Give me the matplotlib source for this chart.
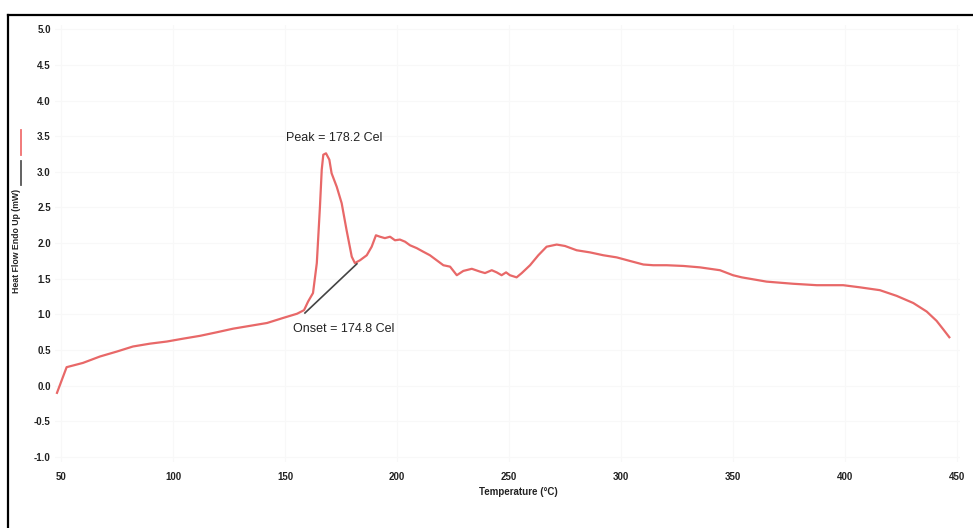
import matplotlib.pyplot as plt
from matplotlib.lines import Line2D

# DSC trace (temperature degC, heat flow mW)
temp = [48.2, 52.5, 59.8, 67.4, 75.0, 82.1, 89.7, 97.3, 104.5, 112.1,
        119.6, 126.8, 134.4, 142.0, 149.1, 155.4, 158.5, 160.3, 162.5, 164.2,
        165.6, 166.4, 167.1, 168.3, 169.8, 170.8, 173.1, 175.3, 177.5, 179.8,
        181.2, 183.5, 186.5, 188.7, 190.6, 192.4, 194.6, 196.9, 199.1, 201.3,
        203.6, 205.8, 208.8, 211.7, 214.7, 217.7, 220.7, 223.7, 226.7, 229.6,
        233.4, 237.1, 239.3, 242.3, 244.5, 246.7, 248.7, 250.4, 253.4, 255.7,
        259.4, 263.1, 266.8, 271.3, 275.0, 280.2, 286.2, 292.1, 298.1, 304.0,
        310.0, 314.4, 320.4, 327.8, 335.3, 344.2, 350.0, 353.9, 365.0, 376.9,
        387.4, 399.2, 406.7, 415.6, 423.1, 430.5, 436.5, 440.9, 443.9, 446.6]
heat = [-0.10, 0.26, 0.32, 0.41, 0.48, 0.55, 0.59, 0.62, 0.66, 0.70,
        0.75, 0.80, 0.84, 0.88, 0.95, 1.01, 1.06, 1.18, 1.30, 1.72,
        2.51, 3.03, 3.24, 3.26, 3.17, 2.98, 2.79, 2.56, 2.18, 1.81,
        1.72, 1.76, 1.83, 1.95, 2.11, 2.09, 2.07, 2.09, 2.04, 2.05,
        2.02, 1.97, 1.93, 1.88, 1.83, 1.76, 1.69, 1.67, 1.55, 1.61,
        1.64, 1.60, 1.58, 1.62, 1.59, 1.55, 1.59, 1.55, 1.52, 1.58,
        1.69, 1.83, 1.95, 1.98, 1.96, 1.90, 1.87, 1.83, 1.80, 1.75,
        1.70, 1.69, 1.69, 1.68, 1.66, 1.62, 1.55, 1.52, 1.46, 1.43,
        1.41, 1.41, 1.38, 1.34, 1.26, 1.16, 1.04, 0.91, 0.79, 0.68]

# onset baseline
base_t = [158.9, 182.1]
base_y = [1.02, 1.71]

xticks = [50, 100, 150, 200, 250, 300, 350, 400, 450]
yticks = [-1.0, -0.5, 0.0, 0.5, 1.0, 1.5, 2.0, 2.5, 3.0, 3.5, 4.0, 4.5, 5.0]

plt.rcParams['font.family'] = ['Liberation Sans', 'DejaVu Sans']

fig = plt.figure(figsize=(9.73, 5.28), dpi=100)
ax = fig.add_axes([0.0565, 0.125, 0.930, 0.8277])

ax.plot(temp, heat, color='#e86868', lw=1.6, zorder=3)
ax.plot(base_t, base_y, color='#444444', lw=1.2, zorder=4)

ax.text(150.4, 3.47, 'Peak = 178.2 Cel', fontsize=9, va='center', color='#222222')
ax.text(153.6, 0.80, 'Onset = 174.8 Cel', fontsize=9, va='center', color='#222222')

ax.set_xlim(47.3, 451.3)
ax.set_ylim(-1.07, 5.06)
ax.set_xticks(xticks)
ax.set_xticklabels([str(v) for v in xticks], fontsize=7, fontweight='bold', color='#222222')
ax.set_yticks(yticks)
ax.set_yticklabels(['%.1f' % v for v in yticks], fontsize=7, fontweight='bold', color='#222222')
ax.tick_params(axis='both', length=0)
ax.tick_params(axis='x', pad=7)
ax.tick_params(axis='y', pad=3)
for s in ax.spines.values():
    s.set_visible(False)
ax.grid(True, color='#f8f8f8', lw=0.8, zorder=0)

ax.set_xlabel('Temperature (°C)', fontsize=7, fontweight='bold', color='#222222')
ax.xaxis.set_label_coords(0.512, -0.057)
ax.set_ylabel('Heat Flow Endo Up (mW)', fontsize=6.3, fontweight='bold', color='#222222')
ax.yaxis.set_label_coords(-0.0376, 0.505)

# little line samples above the y label
fig.add_artist(Line2D([21/973, 21/973], [1-130/528, 1-155/528], color='#f07070', lw=1.3))
fig.add_artist(Line2D([21/973, 21/973], [1-161/528, 1-185/528], color='#555555', lw=1.3))

# frame of the screenshot
fig.add_artist(Line2D([8/973, 1.0], [1-15/528, 1-15/528], color='black', lw=1.6))
fig.add_artist(Line2D([8/973, 8/973], [0.0, 1-15/528], color='black', lw=1.6))

fig.savefig('out.png', dpi=100)
